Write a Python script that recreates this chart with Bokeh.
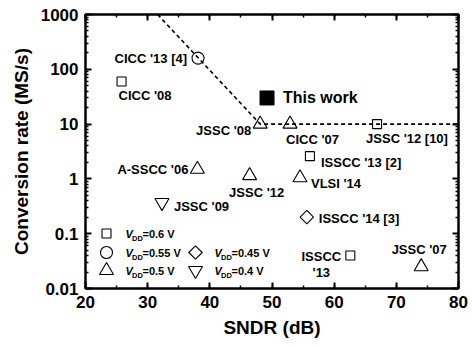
from bokeh.plotting import figure
from bokeh.models import (LinearAxis, LogAxis, FixedTicker, SingleIntervalTicker,
                          CustomJSTickFormatter, Range1d)
from bokeh.core.properties import value
from bokeh.embed import file_html
from bokeh.resources import INLINE

# ---------------- data ----------------
names = ["CICC '13 [4]", "CICC '08", "JSSC '08", "CICC '07", "JSSC '12 [10]",
         "This work", "ISSCC '13 [2]", "A-SSCC '06", "JSSC '12", "VLSI '14",
         "JSSC '09", "ISSCC '14 [3]", "ISSCC\n'13", "JSSC '07"]
sndr = [38.1, 25.8, 48.1, 52.9, 66.9, 49.2, 56.1, 38.0, 46.4, 54.5, 32.3, 55.6, 62.6, 74.0]
rate = [160, 60, 10, 10, 10, 30, 2.6, 1.5, 1.15, 1.05, 0.37, 0.2, 0.04, 0.025]
vdd_group = ["0.55", "0.6", "0.5", "0.5", "0.6", "work", "0.6", "0.5", "0.5", "0.5",
             "0.4", "0.45", "0.6", "0.5"]

# limit line (sndr, rate)
limit_sndr = [31.6, 48.1, 80.0]
limit_rate = [1000, 10, 10]

legend_vdd = ["0.6", "0.55", "0.5", "0.45", "0.4"]

x_ticks = [20, 30, 40, 50, 60, 70, 80]
y_ticks = [0.01, 0.1, 1, 10, 100, 1000]
y_tick_labels = ["0.01", "0.1", "1", "10", "100", "1000"]

# ---------------- styling ----------------
FONT = "Liberation Sans"
# label offsets (screen px) and alignment for each annotated point
label_dx = [-11, -3, -9, -4, -11, 16, 11, -9, 7, 11, 12, 12, -29, -2]
label_dy = [0, 14, 6, 15, 14, 0, 6, 0, 17, 6, 4, 1, -7, -17]
label_align = ["right", "left", "right", "left", "left", "left", "left", "right",
               "center", "left", "left", "left", "center", "center"]
label_base = ["middle"] * 12 + ["top", "middle"]

marker_of = {"0.6": ("square", 9, 0), "0.55": ("circle", 12, 0), "0.5": ("triangle", 14, 0),
             "0.45": ("square", 9.5, 0.785398), "0.4": ("inverted_triangle", 14, 0)}

p = figure(width=472, height=347, x_range=Range1d(20, 80), y_range=Range1d(0.01, 1000),
           y_axis_type="log", output_backend="svg", toolbar_location=None,
           min_border_left=85, min_border_right=14, min_border_top=14, min_border_bottom=59,
           background_fill_color="white", border_fill_color="white")
p.grid.visible = False
p.outline_line_color = "black"
p.outline_line_width = 2

# limit line
p.line(limit_sndr, limit_rate, line_color="black", line_width=1.6, line_dash="4 3")

# points
for i in range(len(names)):
    g = vdd_group[i]
    if g == "work":
        p.scatter([sndr[i]], [rate[i]], marker="square", size=14, fill_color="black",
                  line_color="black")
    else:
        mk, sz, ang = marker_of[g]
        p.scatter([sndr[i]], [rate[i]], marker=mk, size=sz, angle=ang, fill_color=None,
                  line_color="black", line_width=1.1)

# labels
for i in range(len(names)):
    fs = "16px" if vdd_group[i] == "work" else "13px"
    p.text([sndr[i]], [rate[i]], text=[names[i]], x_offset=label_dx[i], y_offset=label_dy[i],
           text_align=label_align[i], text_baseline=label_base[i],
           text_font=value(FONT), text_font_style="bold", text_font_size=fs,
           text_color="black", text_line_height=1.1)

# legend (drawn in frame pixel layout)
FL, FT, FW, FH = 85, 14, 373, 274
def px2data(px, py):
    return 20 + (px - FL) * 60 / FW, 10 ** (3 - (py - FT) * 5 / FH)

leg_pos = [(106, 233), (106, 252), (106, 270), (195, 252), (195, 270)]
for v, (mx, my) in zip(legend_vdd, leg_pos):
    mk, sz, ang = marker_of[v]
    lx, ly = px2data(mx, my)
    p.scatter([lx], [ly], marker=mk, size=sz, angle=ang, fill_color=None,
              line_color="black", line_width=1.1)
    vx, vy = px2data(mx + 19, my)
    p.text([vx], [vy], text=["V"], text_align="left", text_baseline="middle",
           text_font=value(FONT), text_font_style="bold italic", text_font_size="11px",
           text_color="black")
    dx, dy = px2data(mx + 25.5, my + 4.5)
    p.text([dx], [dy], text=["DD"], text_align="left", text_baseline="middle",
           text_font=value(FONT), text_font_style="bold", text_font_size="7.5px",
           text_color="black")
    ex, ey = px2data(mx + 36, my)
    p.text([ex], [ey], text=["=" + v + " V"], text_align="left", text_baseline="middle",
           text_font=value(FONT), text_font_style="bold", text_font_size="11px",
           text_color="black")

# axes
minor_y = [m * 10.0 ** e for e in range(-2, 3) for m in range(2, 10)]
fmt = CustomJSTickFormatter(args=dict(vals=y_ticks, labels=y_tick_labels), code="""
let best = 0;
for (let i = 0; i < vals.length; i++) {
  if (Math.abs(Math.log10(vals[i]) - Math.log10(tick)) < 1e-6) best = i;
}
return labels[best];
""")

def style_axis(ax, show_labels):
    ax.axis_line_width = 2
    ax.axis_line_color = "black"
    ax.major_tick_in = 6
    ax.major_tick_out = 0
    ax.major_tick_line_width = 2
    ax.major_tick_line_color = "black"
    ax.minor_tick_in = 3
    ax.minor_tick_out = 0
    ax.minor_tick_line_width = 1.5
    ax.minor_tick_line_color = "black"
    ax.major_label_text_font = FONT
    ax.major_label_text_font_style = "bold"
    ax.major_label_text_color = "black"
    ax.major_label_text_font_size = "17px" if show_labels else "0px"
    ax.major_label_standoff = 7 if show_labels else 0
    ax.axis_label_text_font = FONT
    ax.axis_label_text_font_style = "bold"
    ax.axis_label_text_color = "black"
    ax.axis_label_text_font_size = "19px"
    ax.axis_label_standoff = 6

xt = SingleIntervalTicker(interval=10, num_minor_ticks=2)
p.xaxis.ticker = xt
p.xaxis.axis_label = "SNDR (dB)"
style_axis(p.xaxis[0], True)

p.yaxis.ticker = FixedTicker(ticks=y_ticks, minor_ticks=minor_y)
p.yaxis.formatter = fmt
p.yaxis.axis_label = "Conversion rate (MS/s)"
style_axis(p.yaxis[0], True)

top = LinearAxis(ticker=SingleIntervalTicker(interval=10, num_minor_ticks=2))
style_axis(top, False)
top.major_label_text_color = None
p.add_layout(top, "above")

right = LogAxis(ticker=FixedTicker(ticks=y_ticks, minor_ticks=minor_y))
style_axis(right, False)
right.major_label_text_color = None
p.add_layout(right, "right")

open("out.html", "w").write(file_html(p, INLINE))
